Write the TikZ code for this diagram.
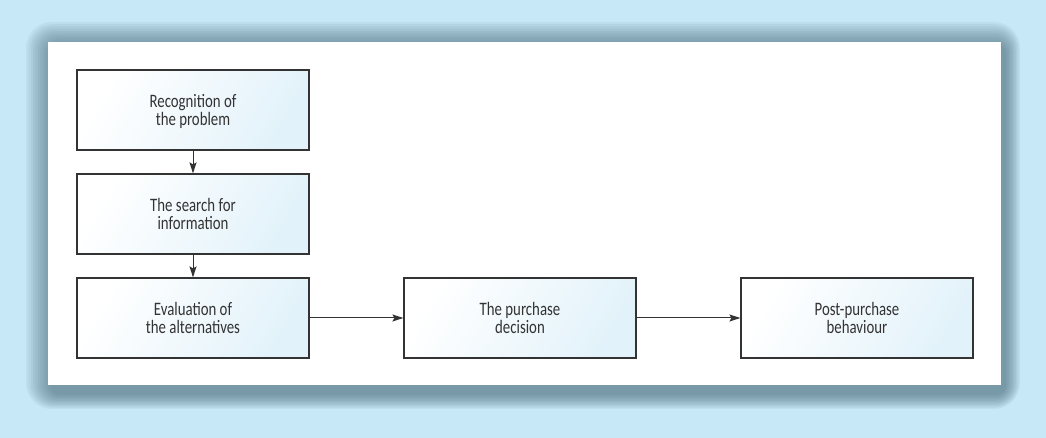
\documentclass[tikz,border=0pt]{standalone}
\usepackage{fontspec}
\setmainfont{Carlito}[FakeStretch=0.78]
\usetikzlibrary{arrows.meta}
\definecolor{bgblue}{HTML}{C6E8F7}
\definecolor{shadowc}{HTML}{40606F}
\definecolor{boxblue}{HTML}{E2F2FA}
\definecolor{linec}{HTML}{333333}
\tikzset{
  stage/.style={draw=linec, line width=1.2pt, minimum width=232pt, minimum height=80pt,
    left color=white, right color=boxblue, shading angle=60,
    align=center, text=linec, font=\fontsize{19}{17.5}\selectfont, inner sep=0pt,
    text depth=-3pt},
  flow/.style={draw=linec, line width=1pt, -{Stealth[length=11pt,width=7pt,inset=2pt]}}
}
\begin{document}
\begin{tikzpicture}[x=1pt,y=1pt]
\fill[bgblue] (0,0) rectangle (1046,438);
\useasboundingbox (0,0) rectangle (1046,438);
% shadow layers
\foreach \k in {0,...,10}{
  \fill[shadowc, opacity=0.072, rounded corners=10pt+1.6*\k pt]
    (50-2.4*\k,43-1.4*\k) rectangle (1006+1.4*\k,394+2.2*\k);
}
\fill[white] (48,53) rectangle (1001,396);
\node[stage] (a) at (193,328) {Recognition of\\the problem};
\node[stage] (b) at (193,224) {The search for\\information};
\node[stage] (c) at (193,120) {Evaluation of\\the alternatives};
\node[stage] (d) at (520,120) {The purchase\\decision};
\node[stage] (e) at (857,120) {Post-purchase\\behaviour};
\draw[flow] (a) -- (b);
\draw[flow] (b) -- (c);
\draw[flow] (c) -- (d);
\draw[flow] (d) -- (e);
\end{tikzpicture}
\end{document}
